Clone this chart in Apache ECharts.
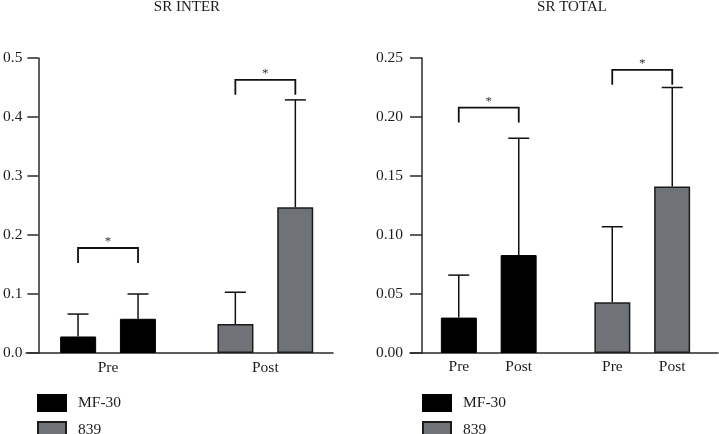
<!DOCTYPE html>
<html><head><meta charset="utf-8">
<script src="https://cdn.jsdelivr.net/npm/echarts@6/dist/echarts.min.js"></script>
<style>html,body{margin:0;padding:0;background:#fff}#c{width:719px;height:434px}</style>
</head><body><div id="c"></div>
<script>
// ---------- data ----------
const seriesNames = ['MF-30', '839'];
const titles = ['SR INTER', 'SR TOTAL'];
// SR INTER: categories on the x axis; MF-30 bars in "Pre", 839 bars in "Post"
const interGroups = ['Pre', 'Post'];
const interMF30Mean = [0.028, 0.058];
const interMF30SD = [0.038, 0.042];
const inter839Mean = [0.049, 0.247];
const inter839SD = [0.054, 0.182];
const interBrackets = [[0, 0.178], [1, 0.463]];
const interYAxis = [0, 0.5, 0.1];
// SR TOTAL: groups MF-30 / 839, each with Pre and Post bars
const totalGroups = ['MF-30', '839'];
const totalSlotLabels = ['Pre', 'Post'];
const totalMF30Mean = [0.030, 0.083];
const totalMF30SD = [0.036, 0.099];
const total839Mean = [0.043, 0.141];
const total839SD = [0.064, 0.084];
const totalBrackets = [[0, 0.208], [1, 0.240]];
const totalYAxis = [0, 0.25, 0.05];

// ---------- style ----------
const FONT = 'Liberation Serif';
const FS = 15.5;
const INK = '#1c1c1c';
const AXIS = '#2a2a2a';
const BLACK = '#000000';
const GREY = '#6f7377';
const BAR_W = 36;
const SLOT_OFF = 30;
const CAP = 10.5;
const LEG = 15;

const chart = echarts.init(document.getElementById('c'));

function buildChart(ci, groups, mfMean, mfSD, gMean, gSD, brackets, yAx, decimals, slotLabels) {
  const bx = ci * 2, lx = ci * 2 + 1;
  const series = [];
  ['A', 'B'].forEach((slot, si) => {
    const lab = slotLabels ? {
      show: true, position: 'bottom', distance: 6,
      formatter: slotLabels[si], color: INK, fontFamily: FONT, fontSize: FS
    } : { show: false };
    series.push({
      type: 'bar', name: seriesNames[0], xAxisIndex: bx, yAxisIndex: bx,
      stack: 'c' + ci + slot, barWidth: BAR_W, barGap: '66%',
      data: [mfMean[si], '-'],
      itemStyle: { color: BLACK, borderColor: '#000', borderWidth: 1 },
      label: lab, emphasis: { disabled: true }
    });
    series.push({
      type: 'bar', name: seriesNames[1], xAxisIndex: bx, yAxisIndex: bx,
      stack: 'c' + ci + slot, barWidth: BAR_W, barGap: '66%',
      data: ['-', gMean[si]],
      itemStyle: { color: GREY, borderColor: '#1c1c1c', borderWidth: 1.5 },
      label: lab, emphasis: { disabled: true }
    });
  });
  const errData = [];
  [0, 1].forEach(si => {
    errData.push([0, si, mfMean[si], mfSD[si]]);
    errData.push([1, si, gMean[si], gSD[si]]);
  });
  series.push({
    type: 'custom', xAxisIndex: bx, yAxisIndex: bx, z: 5,
    encode: { x: 0, y: 2 }, data: errData,
    renderItem: function (params, api) {
      const cat = api.value(0), slot = api.value(1), m = api.value(2), sd = api.value(3);
      const p0 = api.coord([cat, m]);
      const p1 = api.coord([cat, m + sd]);
      const x = p0[0] + (slot === 0 ? -SLOT_OFF : SLOT_OFF);
      const st = { stroke: '#111', lineWidth: 1.5 };
      return { type: 'group', children: [
        { type: 'line', shape: { x1: x, y1: p0[1], x2: x, y2: p1[1] }, style: st },
        { type: 'line', shape: { x1: x - CAP, y1: p1[1], x2: x + CAP, y2: p1[1] }, style: st }
      ] };
    }
  });
  series.push({
    type: 'custom', xAxisIndex: bx, yAxisIndex: bx, z: 5,
    encode: { x: 0, y: 1 }, data: brackets,
    renderItem: function (params, api) {
      const c = api.coord([api.value(0), api.value(1)]);
      const xl = c[0] - SLOT_OFF, xr = c[0] + SLOT_OFF, y = c[1];
      return { type: 'group', children: [
        { type: 'polyline', shape: { points: [[xl, y + LEG], [xl, y], [xr, y], [xr, y + LEG]] },
          style: { stroke: '#111', lineWidth: 1.8, fill: null } },
        { type: 'text', x: c[0], y: y - 6,
          style: { text: '*', align: 'center', verticalAlign: 'middle', font: '13px ' + FONT, fill: '#333' } }
      ] };
    }
  });
  const xAxes = [
    { type: 'category', gridIndex: bx, data: groups,
      axisLine: { show: false }, axisTick: { show: false },
      axisLabel: { show: !slotLabels, margin: 7, color: INK, fontFamily: FONT, fontSize: FS } },
    { type: 'value', gridIndex: lx, min: 0, max: 1, show: true,
      axisLine: { show: true, onZero: false, lineStyle: { color: AXIS, width: 1.5 } },
      axisTick: { show: false }, axisLabel: { show: false }, splitLine: { show: false } }
  ];
  const yAxes = [
    { type: 'value', gridIndex: bx, min: yAx[0], max: yAx[1], interval: yAx[2],
      offset: ci === 0 ? -9 : -10,
      axisLine: { show: true, lineStyle: { color: AXIS, width: 1.5 } },
      axisTick: { show: true, length: ci === 0 ? 11 : 12, lineStyle: { color: AXIS, width: 1.5 } },
      axisLabel: { margin: ci === 0 ? 16 : 19, color: INK, fontFamily: FONT, fontSize: FS,
        formatter: v => v.toFixed(decimals) },
      splitLine: { show: false } },
    { type: 'value', gridIndex: lx, min: 0, max: 1, show: false }
  ];
  return { series, xAxes, yAxes };
}

const L = buildChart(0, interGroups, interMF30Mean, interMF30SD, inter839Mean, inter839SD, interBrackets, interYAxis, 1, null);
const R = buildChart(1, totalGroups, totalMF30Mean, totalMF30SD, total839Mean, total839SD, totalBrackets, totalYAxis, 2, totalSlotLabels);

function legendAt(left) {
  return {
    type: 'plain', orient: 'vertical', left: left, top: 394, width: 90, height: 45,
    padding: 0, itemWidth: 28, itemHeight: 16, itemGap: 9,
    data: seriesNames.slice(), icon: 'rect', selectedMode: false,
    textStyle: { color: INK, fontFamily: FONT, fontSize: FS, padding: [0, 0, 0, 7] }
  };
}

chart.setOption({
  animation: false,
  backgroundColor: '#fff',
  title: [
    { text: titles[0], left: 187, top: 0, textAlign: 'center', padding: 0,
      textStyle: { fontFamily: FONT, fontSize: 15, fontWeight: 'normal', color: INK } },
    { text: titles[1], left: 572, top: 0, textAlign: 'center', padding: 0,
      textStyle: { fontFamily: FONT, fontSize: 15, fontWeight: 'normal', color: INK } }
  ],
  legend: [legendAt(37), legendAt(422)],
  grid: [
    { left: 28, width: 316, top: 58, height: 295 },
    { left: 26, width: 307, top: 58, height: 295 },
    { left: 412, width: 316, top: 58, height: 295 },
    { left: 410, width: 308, top: 58, height: 295 }
  ],
  xAxis: L.xAxes.concat(R.xAxes),
  yAxis: L.yAxes.concat(R.yAxes),
  series: L.series.concat(R.series)
});
</script></body></html>
